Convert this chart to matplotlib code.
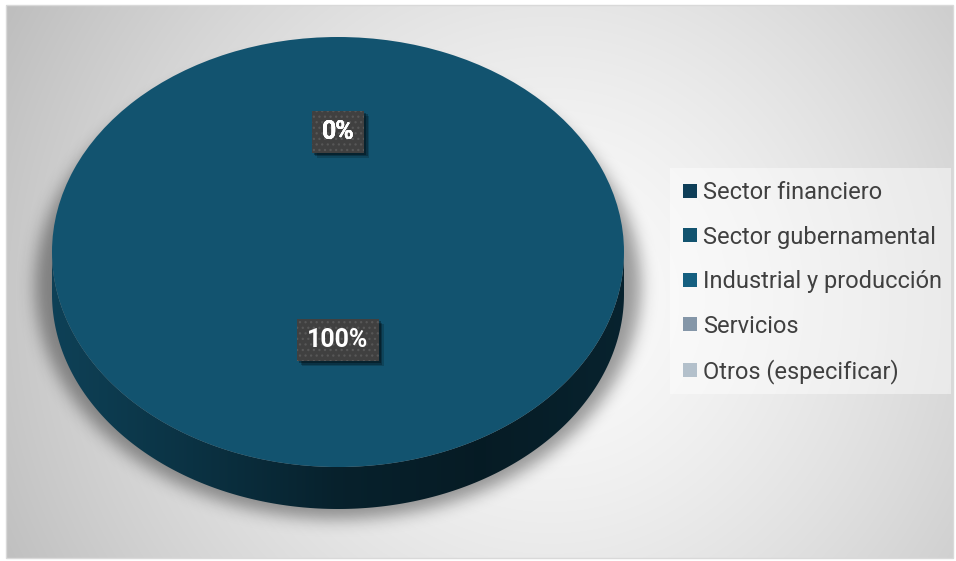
import numpy as np
import matplotlib
matplotlib.use('Agg')
import matplotlib.pyplot as plt
from matplotlib.patches import Rectangle, Polygon
from matplotlib.colors import LinearSegmentedColormap, to_rgb

# data
categories = ['Sector financiero', 'Sector gubernamental', 'Industrial y producción',
              'Servicios', 'Otros (especificar)']
values = [0, 100, 0, 0, 0]
colors = ['#0E3E58', '#12536F', '#155F80', '#8496A8', '#B3C0CB']

W, H, DPI = 956, 561, 100
# pie geometry (pixels, y from top)
CX, CY = 338, 252
RX, RY = 286, 215
DEPTH = 42

plt.rcParams['font.family'] = ['Roboto', 'DejaVu Sans']
plt.rcParams['hatch.linewidth'] = 0.9


def blur(a, s):
    k = np.exp(-0.5 * (np.arange(-3 * s, 3 * s + 1) / s) ** 2)
    k /= k.sum()
    a = np.apply_along_axis(lambda m: np.convolve(m, k, mode='same'), 0, a)
    a = np.apply_along_axis(lambda m: np.convolve(m, k, mode='same'), 1, a)
    return a


fig = plt.figure(figsize=(W / DPI, H / DPI), dpi=DPI)
fig.patch.set_facecolor('white')

bg = fig.add_axes([0, 0, 1, 1])
bg.set_xlim(0, W)
bg.set_ylim(H, 0)
bg.axis('off')

# chart area: radial gradient
x0, y0, x1, y1 = 6, 5, 953, 558
yy, xx = np.mgrid[y0:y1, x0:x1] + 0.5
r = np.hypot(xx - 550, yy - 300) / 600
v = (252 - 60 * np.clip(r, 0, 1.1) ** 1.4) / 255
bg.imshow(np.dstack([v, v, v]), extent=(x0, x1, y1, y0), interpolation='bilinear', zorder=0)
bg.add_patch(Rectangle((x0, y0), x1 - x0, y1 - y0, fill=False, edgecolor='#D9D9D9', lw=1, zorder=3))

# soft shadow under the pie
mask = (((xx - CX) / (RX + 17)) ** 2 + ((yy - (CY + 34)) / (RY + 18)) ** 2 <= 1).astype(float)
sh = blur(mask, 8)
shadow = np.zeros(sh.shape + (4,))
shadow[..., 3] = sh * 0.38
bg.imshow(shadow, extent=(x0, x1, y1, y0), interpolation='bilinear', zorder=1)

# legend backdrop
bg.add_patch(Rectangle((670, 168), 281, 226, facecolor='white', alpha=0.45, edgecolor='none', zorder=2))

# pie axes: unit circle maps to the top ellipse
XL, YT, YB = 1.2, 1.2, 1.45
left_px = CX - XL * RX
top_px = CY - YT * RY
wpx = 2 * XL * RX
hpx = (YT + YB) * RY
ax = fig.add_axes([left_px / W, 1 - (top_px + hpx) / H, wpx / W, hpx / H])
ax.set_facecolor('none')

wedges, _ = ax.pie(values, colors=colors, startangle=90, counterclock=False, radius=1,
                   wedgeprops=dict(linewidth=0, zorder=2))
ax.set_xlim(-XL, XL)
ax.set_ylim(-YB, YT)
ax.set_aspect('auto')
ax.axis('off')

# side of the 3D pie, shaded from the main slice colour
d = DEPTH / RY
base = np.array(to_rgb(colors[int(np.argmax(values))]))
side_cmap = LinearSegmentedColormap.from_list(
    'side', [(0, base * 0.78), (0.25, base * 0.6), (0.5, base * 0.4), (0.75, base * 0.33), (1, base * 0.42)])
t = np.linspace(np.pi, 2 * np.pi, 300)
side = np.concatenate([np.c_[np.cos(t), np.sin(t)],
                       np.c_[np.cos(t[::-1]), np.sin(t[::-1]) - d]])
poly = Polygon(side, closed=True, facecolor='none', edgecolor='none')
ax.add_patch(poly)
im = ax.imshow(np.linspace(0, 1, 256).reshape(1, -1), cmap=side_cmap,
               extent=(-1, 1, -1 - d, 0), aspect='auto', zorder=1)
im.set_clip_path(poly)

# data labels (dark boxes with a drop shadow); zero slices share one spot at the top
renderer = fig.canvas.get_renderer()
total = sum(values)
angle = 90
boxed = set()
BOX_H = 42
for val in values:
    span = 360 * val / total
    mid = np.radians(angle - span / 2)
    angle -= span
    lx = 0.485 * np.cos(mid)
    ly = 0.485 * np.sin(mid) + 0.075
    txt = f'{val / total * 100:.0f}%'
    t_ = ax.text(lx, ly, txt, ha='center', va='center', fontsize=18, fontweight='bold',
                 color='white', zorder=5)
    key = (round(lx, 3), round(ly, 3))
    if key in boxed:
        continue
    boxed.add(key)
    bw = (t_.get_window_extent(renderer).width + 20) / RX
    bh = BOX_H / RY
    for off, a in [(2, 0.3), (3.5, 0.25), (5, 0.18)]:
        ax.add_patch(Rectangle((lx - bw / 2 + off / RX, ly - bh / 2 - off / RY), bw, bh,
                               facecolor='black', edgecolor='none', alpha=a, zorder=3))
    ax.add_patch(Rectangle((lx - bw / 2, ly - bh / 2), bw, bh, facecolor='#404040',
                           edgecolor='#575757', linewidth=0, hatch='...', zorder=4))

leg = ax.legend(wedges, categories, loc='center left', bbox_to_anchor=(683 / W, 1 - 282.5 / H),
                bbox_transform=fig.transFigure, frameon=False, fontsize=17,
                handlelength=0.6, handleheight=0.52, handletextpad=0.25,
                labelspacing=0.91, borderpad=0, borderaxespad=0)
for tx in leg.get_texts():
    tx.set_color('#404040')

fig.savefig('out.png', dpi=DPI)
